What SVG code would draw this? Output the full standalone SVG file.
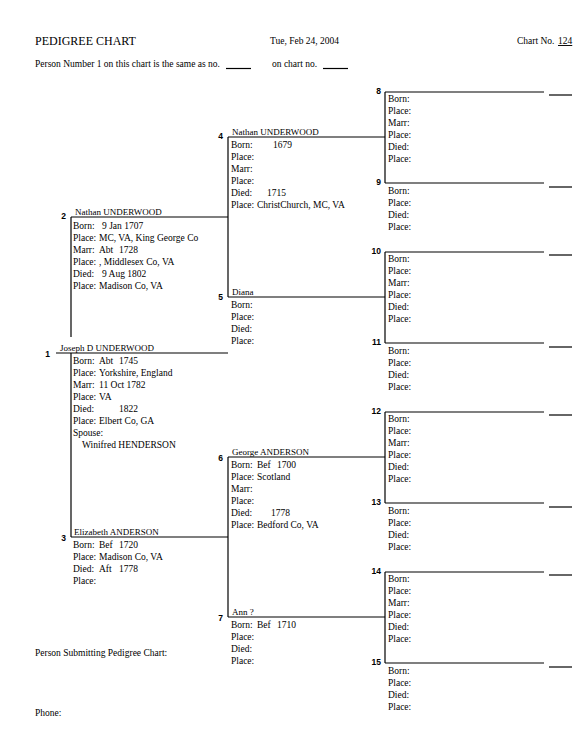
<svg xmlns="http://www.w3.org/2000/svg" width="576" height="754" viewBox="0 0 576 754">
<style>
text{font-family:"Liberation Serif","Times New Roman",serif;font-size:9.5px;fill:#000}
.h{font-size:12px}
.nm{font-size:9px}
.n{font-family:"Liberation Sans",Arial,sans-serif;font-size:8.5px;font-weight:bold;text-anchor:end}
.ln{stroke:#000;stroke-width:1.2;fill:none}
</style>
<rect width="576" height="754" fill="#fff"/>
<g id="header">
<text class="h" x="35" y="45">PEDIGREE CHART</text>
<text x="270" y="44">Tue, Feb 24, 2004</text>
<text x="517" y="44">Chart No.</text>
<text x="558" y="44" text-decoration="underline">124</text>
<text x="35" y="67">Person Number 1 on this chart is the same as no.</text>
<text x="272" y="67">on chart no.</text>
<line class="ln" x1="226" y1="68.5" x2="251" y2="68.5"/>
<line class="ln" x1="323" y1="68.5" x2="348" y2="68.5"/>
</g>
<g id="connectors">
<line class="ln" x1="56" y1="353" x2="228" y2="353"/>
<line class="ln" x1="71" y1="217" x2="71" y2="337"/>
<line class="ln" x1="71" y1="353" x2="71" y2="537"/>
<line class="ln" x1="71" y1="217" x2="228" y2="217"/>
<line class="ln" x1="71" y1="537" x2="228" y2="537"/>
<line class="ln" x1="228" y1="137" x2="228" y2="297"/>
<line class="ln" x1="228" y1="457" x2="228" y2="617"/>
<line class="ln" x1="228" y1="137" x2="385" y2="137"/>
<line class="ln" x1="228" y1="297" x2="385" y2="297"/>
<line class="ln" x1="228" y1="457" x2="385" y2="457"/>
<line class="ln" x1="228" y1="617" x2="385" y2="617"/>
<line class="ln" x1="385" y1="92" x2="385" y2="183"/>
<line class="ln" x1="385" y1="252" x2="385" y2="343"/>
<line class="ln" x1="385" y1="412" x2="385" y2="503"/>
<line class="ln" x1="385" y1="572" x2="385" y2="663"/>
<line class="ln" x1="385" y1="92" x2="544" y2="92"/>
<line class="ln" x1="385" y1="183" x2="544" y2="183"/>
<line class="ln" x1="385" y1="252" x2="544" y2="252"/>
<line class="ln" x1="385" y1="343" x2="544" y2="343"/>
<line class="ln" x1="385" y1="412" x2="544" y2="412"/>
<line class="ln" x1="385" y1="503" x2="544" y2="503"/>
<line class="ln" x1="385" y1="572" x2="544" y2="572"/>
<line class="ln" x1="385" y1="663" x2="544" y2="663"/>
<line class="ln" x1="549" y1="95" x2="572" y2="95"/>
<line class="ln" x1="549" y1="187" x2="572" y2="187"/>
<line class="ln" x1="549" y1="255" x2="572" y2="255"/>
<line class="ln" x1="549" y1="347" x2="572" y2="347"/>
<line class="ln" x1="549" y1="415" x2="572" y2="415"/>
<line class="ln" x1="549" y1="507" x2="572" y2="507"/>
<line class="ln" x1="549" y1="575" x2="572" y2="575"/>
<line class="ln" x1="549" y1="667" x2="572" y2="667"/>
</g>
<g id="p1">
<text class="n" x="50" y="357">1</text>
<text class="nm" x="60" y="351">Joseph D UNDERWOOD</text>
<text x="73" y="364">Born:<tspan x="99">Abt</tspan><tspan x="119">1745</tspan></text>
<text x="73" y="376">Place:<tspan x="99">Yorkshire, England</tspan></text>
<text x="73" y="388">Marr:<tspan x="99">11 Oct 1782</tspan></text>
<text x="73" y="400">Place:<tspan x="99">VA</tspan></text>
<text x="73" y="412">Died:<tspan x="119">1822</tspan></text>
<text x="73" y="424">Place:<tspan x="99">Elbert Co, GA</tspan></text>
<text x="73" y="436">Spouse:</text>
<text x="82" y="448">Winifred HENDERSON</text>
</g>
<g id="p2">
<text class="n" x="66" y="219">2</text>
<text class="nm" x="75" y="215">Nathan UNDERWOOD</text>
<text x="73" y="229">Born:<tspan x="102">9 Jan 1707</tspan></text>
<text x="73" y="241">Place:<tspan x="99">MC, VA, King George Co</tspan></text>
<text x="73" y="253">Marr:<tspan x="99">Abt</tspan><tspan x="119">1728</tspan></text>
<text x="73" y="265">Place:<tspan x="99">, Middlesex Co, VA</tspan></text>
<text x="73" y="277">Died:<tspan x="102">9 Aug 1802</tspan></text>
<text x="73" y="289">Place:<tspan x="99">Madison Co, VA</tspan></text>
</g>
<g id="p3">
<text class="n" x="66" y="541">3</text>
<text class="nm" x="74" y="535">Elizabeth ANDERSON</text>
<text x="73" y="548">Born:<tspan x="99">Bef</tspan><tspan x="119">1720</tspan></text>
<text x="73" y="560">Place:<tspan x="99">Madison Co, VA</tspan></text>
<text x="73" y="572">Died:<tspan x="99">Aft</tspan><tspan x="119">1778</tspan></text>
<text x="73" y="584">Place:</text>
</g>
<g id="p4">
<text class="n" x="223" y="139">4</text>
<text class="nm" x="232" y="135">Nathan UNDERWOOD</text>
<text x="231" y="148">Born:<tspan x="273">1679</tspan></text>
<text x="231" y="160">Place:</text>
<text x="231" y="172">Marr:</text>
<text x="231" y="184">Place:</text>
<text x="231" y="196">Died:<tspan x="267">1715</tspan></text>
<text x="231" y="208">Place:<tspan x="257">ChristChurch, MC, VA</tspan></text>
</g>
<g id="p5">
<text class="n" x="223" y="300">5</text>
<text class="nm" x="232" y="295">Diana</text>
<text x="231" y="308">Born:</text>
<text x="231" y="320">Place:</text>
<text x="231" y="332">Died:</text>
<text x="231" y="344">Place:</text>
</g>
<g id="p6">
<text class="n" x="223" y="461">6</text>
<text class="nm" x="232" y="455">George ANDERSON</text>
<text x="231" y="468">Born:<tspan x="257">Bef</tspan><tspan x="277">1700</tspan></text>
<text x="231" y="480">Place:<tspan x="257">Scotland</tspan></text>
<text x="231" y="492">Marr:</text>
<text x="231" y="504">Place:</text>
<text x="231" y="516">Died:<tspan x="271">1778</tspan></text>
<text x="231" y="528">Place:<tspan x="257">Bedford Co, VA</tspan></text>
</g>
<g id="p7">
<text class="n" x="223" y="621">7</text>
<text class="nm" x="232" y="615">Ann ?</text>
<text x="231" y="628">Born:<tspan x="257">Bef</tspan><tspan x="277">1710</tspan></text>
<text x="231" y="640">Place:</text>
<text x="231" y="652">Died:</text>
<text x="231" y="664">Place:</text>
</g>
<g id="p8">
<text class="n" x="381" y="94">8</text>
<text x="388" y="102">Born:</text><text x="388" y="114">Place:</text><text x="388" y="126">Marr:</text>
<text x="388" y="138">Place:</text><text x="388" y="150">Died:</text><text x="388" y="162">Place:</text>
</g>
<g id="p9">
<text class="n" x="381" y="185">9</text>
<text x="388" y="194">Born:</text><text x="388" y="206">Place:</text><text x="388" y="218">Died:</text><text x="388" y="230">Place:</text>
</g>
<g id="p10">
<text class="n" x="381" y="254">10</text>
<text x="388" y="262">Born:</text><text x="388" y="274">Place:</text><text x="388" y="286">Marr:</text>
<text x="388" y="298">Place:</text><text x="388" y="310">Died:</text><text x="388" y="322">Place:</text>
</g>
<g id="p11">
<text class="n" x="381" y="345">11</text>
<text x="388" y="354">Born:</text><text x="388" y="366">Place:</text><text x="388" y="378">Died:</text><text x="388" y="390">Place:</text>
</g>
<g id="p12">
<text class="n" x="381" y="414">12</text>
<text x="388" y="422">Born:</text><text x="388" y="434">Place:</text><text x="388" y="446">Marr:</text>
<text x="388" y="458">Place:</text><text x="388" y="470">Died:</text><text x="388" y="482">Place:</text>
</g>
<g id="p13">
<text class="n" x="381" y="505">13</text>
<text x="388" y="514">Born:</text><text x="388" y="526">Place:</text><text x="388" y="538">Died:</text><text x="388" y="550">Place:</text>
</g>
<g id="p14">
<text class="n" x="381" y="574">14</text>
<text x="388" y="582">Born:</text><text x="388" y="594">Place:</text><text x="388" y="606">Marr:</text>
<text x="388" y="618">Place:</text><text x="388" y="630">Died:</text><text x="388" y="642">Place:</text>
</g>
<g id="p15">
<text class="n" x="381" y="665">15</text>
<text x="388" y="674">Born:</text><text x="388" y="686">Place:</text><text x="388" y="698">Died:</text><text x="388" y="710">Place:</text>
</g>
<g id="footer">
<text x="35" y="656">Person Submitting Pedigree Chart:</text>
<text x="35" y="716">Phone:</text>
</g>
</svg>
